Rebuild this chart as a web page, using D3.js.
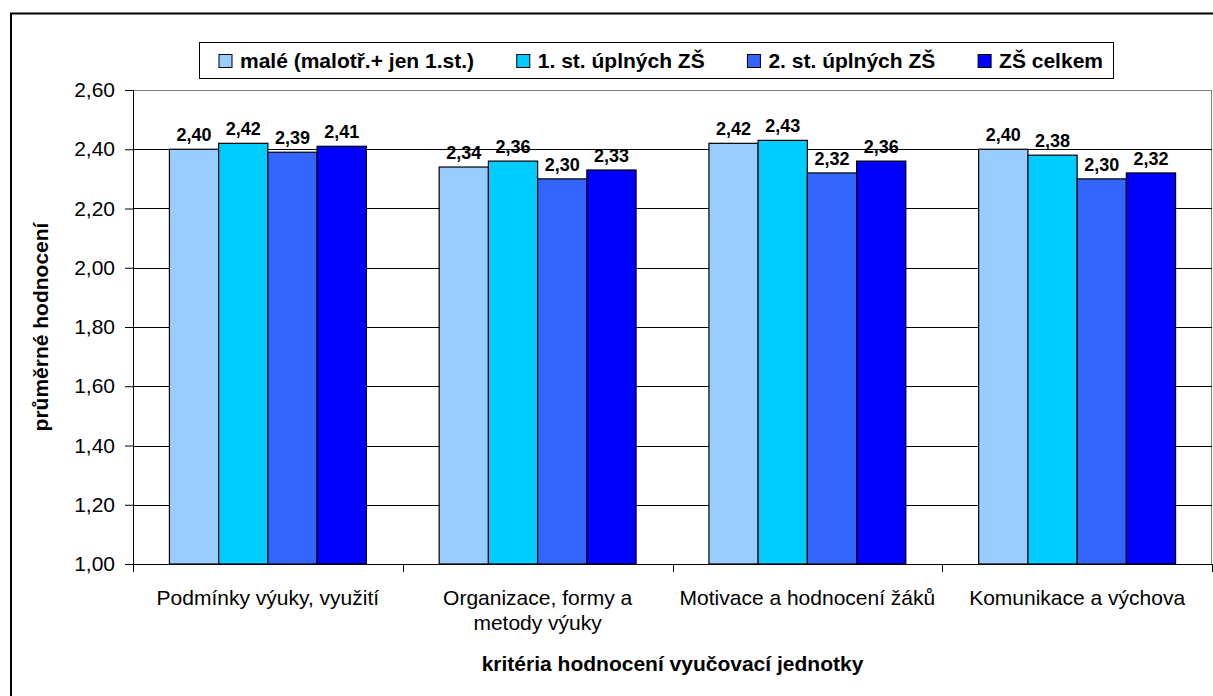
<!DOCTYPE html>
<html>
<head>
<meta charset="utf-8">
<script src="https://cdn.jsdelivr.net/npm/d3@7"></script>
<style>
    body { margin: 0; background: #fff; }
    svg { display: block; font-family: Arial, "Liberation Sans", sans-serif; }
    .tick-label { font-size: 21px; fill: #000; }
    .cat-label { font-size: 21px; fill: #000; }
    .axis-title { font-size: 21px; font-weight: bold; fill: #000; }
    .bar-label { font-size: 18px; font-weight: bold; fill: #000; }
    .legend-label { font-size: 21px; font-weight: bold; fill: #000; }
</style>
</head>
<body>
<svg id="chart"></svg>
<script>
// kategorie (osa x)
const categories = [
    "Podmínky výuky, využití",
    "Organizace, formy a metody výuky",
    "Motivace a hodnocení žáků",
    "Komunikace a výchova"
];

// řady
const seriesNames = [
    "malé (malotř.+ jen 1.st.)",
    "1. st. úplných ZŠ",
    "2. st. úplných ZŠ",
    "ZŠ celkem"
];

const maleValues = [2.40, 2.34, 2.42, 2.40];
const prvniStupenValues = [2.42, 2.36, 2.43, 2.38];
const druhyStupenValues = [2.39, 2.30, 2.32, 2.30];
const celkemValues = [2.41, 2.33, 2.36, 2.32];

const yTicks = [1.00, 1.20, 1.40, 1.60, 1.80, 2.00, 2.20, 2.40, 2.60];

const yTitle = "průměrné hodnocení";
const xTitle = "kritéria hodnocení vyučovací jednotky";

class GroupedBar {
    constructor(_config, _data) {
        this.config = {
            parentElement: _config.parentElement,
            containerWidth: 1213,
            containerHeight: 696,
            margin: { top: 90, right: 1, bottom: 132, left: 133 },
            colors: ['#99ccff', '#00ccff', '#3366ff', '#0000ff'],
        }
        this.data = _data;
        this.initVis();
    }

    initVis() {
        let vis = this;

        vis.width = vis.config.containerWidth - vis.config.margin.left - vis.config.margin.right;
        vis.height = vis.config.containerHeight - vis.config.margin.top - vis.config.margin.bottom;

        vis.svg = d3.select(vis.config.parentElement)
            .attr('width', vis.config.containerWidth)
            .attr('height', vis.config.containerHeight);

        vis.svg.append('rect')
            .attr('width', vis.config.containerWidth)
            .attr('height', vis.config.containerHeight)
            .attr('fill', '#fff');

        // outer frame (runs off the right and bottom edge)
        vis.svg.append('path')
            .attr('d', 'M11,700V13.5H1220')
            .attr('fill', 'none')
            .attr('stroke', '#000')
            .attr('stroke-width', 2);

        vis.chart = vis.svg.append('g')
            .attr('transform', `translate(${vis.config.margin.left},${vis.config.margin.top})`);

        vis.x0 = d3.scaleBand()
            .domain(categories)
            .range([0, vis.width]);

        vis.x1 = d3.scaleBand()
            .domain(seriesNames)
            .range([0, vis.x0.bandwidth()])
            .paddingInner(0)
            .paddingOuter(0.74);

        vis.yScale = d3.scaleLinear()
            .domain([1, 2.6])
            .range([vis.height, 0]);

        vis.colorScale = d3.scaleOrdinal()
            .domain(seriesNames)
            .range(vis.config.colors);

        vis.renderVis();
    }

    renderVis() {
        let vis = this;
        const fmt = d => d3.format('.2f')(d).replace('.', ',');

        // plot area border
        vis.chart.append('rect')
            .attr('x', 0.5)
            .attr('y', 0.5)
            .attr('width', vis.width - 1)
            .attr('height', vis.height)
            .attr('fill', 'none')
            .attr('stroke', '#808080');

        // gridlines
        vis.chart.append('g')
            .selectAll('line')
            .data(yTicks.filter(t => t > 1 && t < 2.6))
            .join('line')
            .attr('x1', 0)
            .attr('x2', vis.width)
            .attr('y1', d => Math.round(vis.yScale(d)) + 0.5)
            .attr('y2', d => Math.round(vis.yScale(d)) + 0.5)
            .attr('stroke', '#000');

        // bars
        const groups = vis.chart.append('g')
            .selectAll('g')
            .data(vis.data)
            .join('g')
            .attr('transform', d => `translate(${vis.x0(d.category)},0)`);

        groups.selectAll('rect')
            .data(d => d.values)
            .join('rect')
            .attr('x', d => vis.x1(d.series))
            .attr('y', d => vis.yScale(d.value))
            .attr('width', vis.x1.bandwidth())
            .attr('height', d => vis.height - vis.yScale(d.value))
            .attr('fill', d => vis.colorScale(d.series))
            .attr('stroke', '#000')
            .attr('stroke-width', 1.2);

        groups.selectAll('text')
            .data(d => d.values)
            .join('text')
            .attr('class', 'bar-label')
            .attr('x', d => vis.x1(d.series) + vis.x1.bandwidth() / 2)
            .attr('y', d => vis.yScale(d.value) - 8)
            .attr('text-anchor', 'middle')
            .text(d => fmt(d.value));

        // y axis
        vis.yAxis = d3.axisLeft(vis.yScale)
            .tickValues(yTicks)
            .tickSize(8)
            .tickPadding(10)
            .tickFormat(fmt);

        vis.yAxisG = vis.chart.append('g')
            .attr('class', 'axis y-axis')
            .call(vis.yAxis)
            .call(g => g.select('.domain').remove());
        vis.yAxisG.selectAll('.tick line').attr('stroke', '#000');
        vis.yAxisG.selectAll('.tick text')
            .attr('class', 'tick-label')
            .attr('font-size', null)
            .attr('font-family', null);
        vis.yAxisG.attr('font-size', null).attr('font-family', null);

        vis.chart.append('line')
            .attr('x1', 0.5).attr('x2', 0.5)
            .attr('y1', 0).attr('y2', vis.height)
            .attr('stroke', '#000');

        // x axis
        vis.chart.append('line')
            .attr('x1', 0).attr('x2', vis.width)
            .attr('y1', vis.height + 0.5).attr('y2', vis.height + 0.5)
            .attr('stroke', '#000');

        const bounds = categories.map(c => vis.x0(c)).concat([vis.width]);
        vis.chart.append('g')
            .selectAll('line')
            .data(bounds)
            .join('line')
            .attr('x1', d => Math.round(d) + 0.5)
            .attr('x2', d => Math.round(d) + 0.5)
            .attr('y1', vis.height)
            .attr('y2', vis.height + 8)
            .attr('stroke', '#000');

        const catText = vis.chart.append('g')
            .selectAll('text')
            .data(categories)
            .join('text')
            .attr('class', 'cat-label')
            .attr('x', d => vis.x0(d) + vis.x0.bandwidth() / 2)
            .attr('y', vis.height + 41)
            .attr('text-anchor', 'middle')
            .text(d => d);
        catText.call(wrap, 259, 25);

        // axis titles
        vis.chart.append('text')
            .attr('class', 'axis-title')
            .attr('x', vis.width / 2)
            .attr('y', vis.height + 107)
            .attr('text-anchor', 'middle')
            .text(xTitle);

        vis.svg.append('text')
            .attr('class', 'axis-title')
            .attr('transform', `translate(48,${vis.config.margin.top + vis.height / 2}) rotate(-90)`)
            .attr('text-anchor', 'middle')
            .text(yTitle);

        // legend
        const box = { x: 199, y: 42, w: 914, h: 36 };
        const legend = vis.svg.append('g');
        legend.append('rect')
            .attr('x', box.x + 0.5)
            .attr('y', box.y + 0.5)
            .attr('width', box.w)
            .attr('height', box.h)
            .attr('fill', '#fff')
            .attr('stroke', '#000');

        const items = legend.selectAll('g')
            .data(seriesNames)
            .join('g');
        items.append('rect')
            .attr('width', 13)
            .attr('height', 13)
            .attr('y', box.y + 12.5)
            .attr('fill', d => vis.colorScale(d))
            .attr('stroke', '#000');
        items.append('text')
            .attr('class', 'legend-label')
            .attr('x', 21)
            .attr('y', box.y + 26)
            .text(d => d);

        const widths = [];
        items.each(function() {
            widths.push(21 + d3.select(this).select('text').node().getComputedTextLength());
        });
        const padL = 20, padR = 10;
        const gap = (box.w - padL - padR - d3.sum(widths)) / (widths.length - 1);
        let cx = box.x + padL;
        items.each(function(d, i) {
            d3.select(this).attr('transform', `translate(${cx},0)`);
            cx += widths[i] + gap;
        });
    }
}

function wrap(text, width, lineHeight) {
    text.each(function() {
        const t = d3.select(this);
        const words = t.text().split(/\s+/);
        const x = t.attr('x');
        const y = t.attr('y');
        t.text(null);
        let line = [];
        let tspan = t.append('tspan').attr('x', x).attr('y', y);
        let n = 0;
        words.forEach(w => {
            line.push(w);
            tspan.text(line.join(' '));
            if (tspan.node().getComputedTextLength() > width && line.length > 1) {
                line.pop();
                tspan.text(line.join(' '));
                line = [w];
                n++;
                tspan = t.append('tspan').attr('x', x).attr('y', +y + n * lineHeight).text(w);
            }
        });
    });
}

const chartData = categories.map((c, i) => ({
    category: c,
    values: [
        { series: seriesNames[0], value: maleValues[i] },
        { series: seriesNames[1], value: prvniStupenValues[i] },
        { series: seriesNames[2], value: druhyStupenValues[i] },
        { series: seriesNames[3], value: celkemValues[i] },
    ]
}));

new GroupedBar({ parentElement: '#chart' }, chartData);
</script>
</body>
</html>
